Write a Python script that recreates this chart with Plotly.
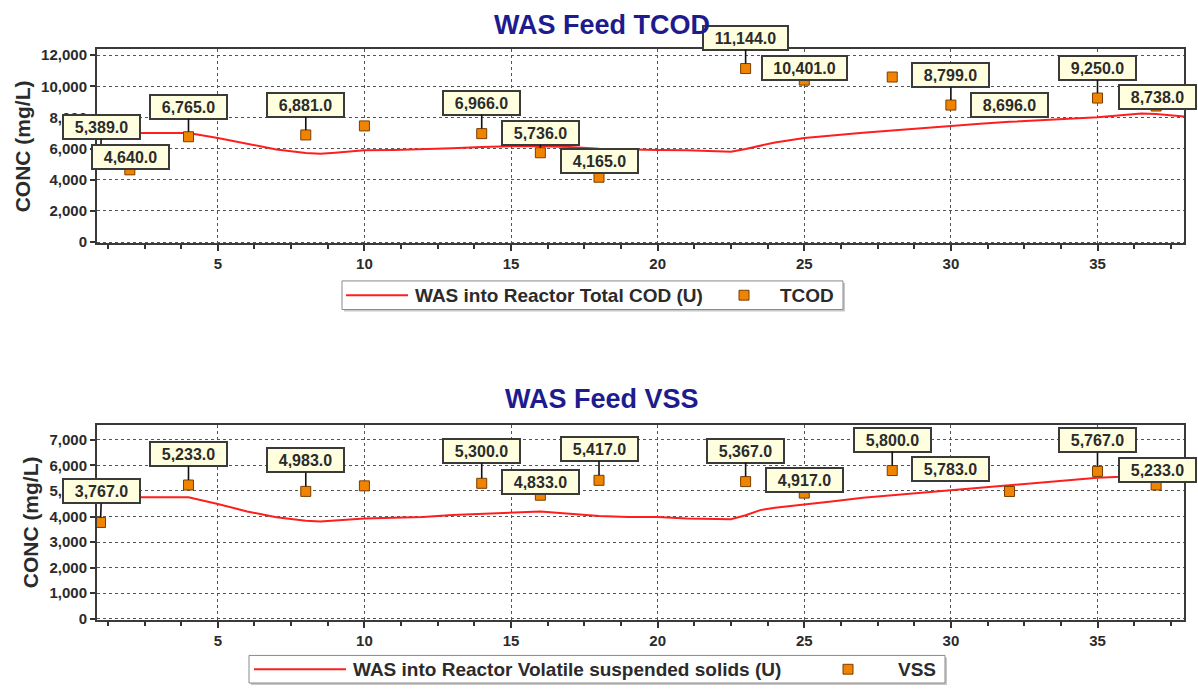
import plotly.graph_objects as go

# ---------------- data ----------------
MODEL_DAYS = [1, 2, 3, 4, 5, 6, 7, 8, 8.5, 9, 10, 11, 12, 13, 14, 15, 16, 17, 18, 19, 20,
              21, 22, 22.5, 23, 23.5, 24, 25, 26, 27, 28, 29, 30, 31, 32, 33, 34, 35, 36, 36.5, 37, 38]
TCOD_MODEL = [7000, 7000, 7000, 7000, 6680, 6300, 5950, 5720, 5670, 5730, 5890, 5910, 5950, 6030,
              6100, 6160, 6150, 6100, 6000, 5950, 5910, 5900, 5830, 5800, 5980, 6200, 6400, 6690, 6870,
              7020, 7160, 7320, 7480, 7600, 7720, 7830, 7930, 8020, 8180, 8250, 8230, 8050]
VSS_MODEL = [4750, 4750, 4750, 4750, 4490, 4200, 3970, 3830, 3800, 3850, 3920, 3950, 3980, 4060,
             4110, 4150, 4200, 4110, 4020, 3980, 3980, 3920, 3900, 3890, 4050, 4250, 4340, 4460, 4600,
             4730, 4830, 4920, 5010, 5110, 5210, 5310, 5420, 5520, 5570, 5600, 5590, 5560]

TCOD_DAYS = [1, 2, 4, 8, 10, 14, 16, 18, 23, 25, 28, 30, 32, 35, 37]
TCOD_VALUES = [5389, 4640, 6765, 6881, 7460, 6966, 5736, 4165, 11144, 10401, 10600, 8799, 8696, 9250, 8738]
TCOD_LABELED = [True, True, True, True, False, True, True, True, True, True, False, True, True, True, True]

VSS_DAYS = [1, 4, 8, 10, 14, 16, 18, 23, 25, 28, 30, 32, 35, 37]
VSS_VALUES = [3767, 5233, 4983, 5200, 5300, 4833, 5417, 5367, 4917, 5800, 5783, 4980, 5767, 5233]
VSS_LABELED = [True, True, True, False, True, True, True, True, True, True, True, False, True, True]

X_TICKS = [5, 10, 15, 20, 25, 30, 35]

TCOD_LINE_NAME = "WAS into Reactor Total COD (U)"
TCOD_POINT_NAME = "TCOD"
VSS_LINE_NAME = "WAS into Reactor Volatile suspended solids (U)"
VSS_POINT_NAME = "VSS"

# ---------------- layout helpers (pixel offsets of callout boxes) ----------------
TCOD_LABEL_DY = {1: -31, 2: -13, 4: -30, 8: -30, 14: -31, 16: -20, 18: -16, 23: -31,
                 25: -12, 30: -30, 32: -2, 35: -30, 37: -9}
TCOD_LABEL_DX = {1: 1, 2: 1, 37: 1}
VSS_LABEL_DY = {1: -31, 4: -31, 8: -31, 14: -32, 16: -13, 18: -31, 23: -31, 25: -13,
                28: -31, 30: -1.5, 35: -31, 37: -15}
VSS_LABEL_DX = {1: 1, 37: 1}

W, H = 1198, 692
FONT = "Liberation Sans, Arial, sans-serif"
RED = "#FF1E1E"
ORANGE = "#F08400"
ORANGE_EDGE = "#7A3E00"
NAVY = "#1C1C8E"
TXT = "#2b2b2b"


def px(x):
    return x / W


def py(y):
    return 1 - y / H


fig = go.Figure()

marker_style = dict(symbol="square", size=10, color=ORANGE, line=dict(color=ORANGE_EDGE, width=1))
fig.add_trace(go.Scatter(x=MODEL_DAYS, y=TCOD_MODEL, mode="lines", name=TCOD_LINE_NAME,
                         line=dict(color=RED, width=2), xaxis="x", yaxis="y", hoverinfo="skip"))
fig.add_trace(go.Scatter(x=TCOD_DAYS, y=TCOD_VALUES, mode="markers", name=TCOD_POINT_NAME,
                         marker=marker_style, xaxis="x", yaxis="y", cliponaxis=False))
fig.add_trace(go.Scatter(x=MODEL_DAYS, y=VSS_MODEL, mode="lines", name=VSS_LINE_NAME,
                         line=dict(color=RED, width=2), xaxis="x2", yaxis="y2", hoverinfo="skip"))
fig.add_trace(go.Scatter(x=VSS_DAYS, y=VSS_VALUES, mode="markers", name=VSS_POINT_NAME,
                         marker=marker_style, xaxis="x2", yaxis="y2", cliponaxis=False))

annotations = []
shapes = []


def add_labels(days, values, labeled, dy, dx, xref, yref):
    for d, v, lab in zip(days, values, labeled):
        if not lab:
            continue
        text = f"{v:,.1f}"
        annotations.append(dict(
            x=d, y=v, xref=xref, yref=yref, text=text, showarrow=True,
            ax=dx.get(d, 0), ay=dy[d], arrowhead=0, arrowwidth=1.6, arrowcolor="#111111",
            standoff=5, bgcolor="#FFFFE0", bordercolor="#3a3a3a", borderwidth=2, borderpad=3,
            width=69 if len(text) <= 7 else 77, height=16,
            font=dict(family=FONT, size=16, color=TXT, weight="bold"),
        ))


add_labels(TCOD_DAYS, TCOD_VALUES, TCOD_LABELED, TCOD_LABEL_DY, TCOD_LABEL_DX, "x", "y")
add_labels(VSS_DAYS, VSS_VALUES, VSS_LABELED, VSS_LABEL_DY, VSS_LABEL_DX, "x2", "y2")

annotations.append(dict(text="WAS Feed TCOD", x=px(602), y=py(22), xref="paper", yref="paper",
                        showarrow=False, xanchor="center", yanchor="middle",
                        font=dict(family=FONT, size=27, color=NAVY, weight="bold")))
annotations.append(dict(text="WAS Feed VSS", x=px(602), y=py(402), xref="paper", yref="paper",
                        showarrow=False, xanchor="center", yanchor="middle",
                        font=dict(family=FONT, size=27, color=NAVY, weight="bold")))


def add_legend(box, line_span, line_name, marker_x, point_name, point_right):
    x0, y0, x1, y1 = box
    yc = (y0 + y1) / 2
    # soft shadow + box
    shapes.append(dict(type="rect", xref="paper", yref="paper", x0=px(x0 + 2), x1=px(x1 + 2),
                       y0=py(y1 + 2), y1=py(y0 + 2), fillcolor="#c8c8c8", line=dict(width=0), layer="above"))
    shapes.append(dict(type="rect", xref="paper", yref="paper", x0=px(x0), x1=px(x1),
                       y0=py(y1), y1=py(y0), fillcolor="white", line=dict(color="#8a8a8a", width=1),
                       layer="above"))
    shapes.append(dict(type="line", xref="paper", yref="paper", x0=px(line_span[0]), x1=px(line_span[1]),
                       y0=py(yc), y1=py(yc), line=dict(color=RED, width=2), layer="above"))
    shapes.append(dict(type="rect", xref="paper", yref="paper", x0=px(marker_x - 5), x1=px(marker_x + 5),
                       y0=py(yc + 5), y1=py(yc - 5), fillcolor=ORANGE,
                       line=dict(color=ORANGE_EDGE, width=1), layer="above"))
    annotations.append(dict(text=line_name, x=px(line_span[1] + 5), y=py(yc), xref="paper", yref="paper",
                            showarrow=False, xanchor="left", yanchor="middle",
                            font=dict(family=FONT, size=19, color=TXT, weight="bold")))
    annotations.append(dict(text=point_name, x=px(point_right), y=py(yc), xref="paper", yref="paper",
                            showarrow=False, xanchor="right", yanchor="middle",
                            font=dict(family=FONT, size=19, color=TXT, weight="bold")))


add_legend((342, 282, 843, 311), (346, 408), TCOD_LINE_NAME, 744, TCOD_POINT_NAME, 836)
add_legend((249, 662, 945, 690), (254, 346), VSS_LINE_NAME, 848, VSS_POINT_NAME, 938)

tickfont = dict(family=FONT, size=15, color=TXT, weight="bold")
xdom = [px(97), px(1184)]
xcommon = dict(range=[0.88, 37.95], tickvals=X_TICKS, showgrid=True, gridcolor="#555555", griddash="dot",
               gridwidth=1, showline=True, linecolor="#3a3a3a", linewidth=2, mirror=True,
               ticks="outside", ticklen=6, tickwidth=1.5, tickcolor="#333",
               minor=dict(dtick=1.25, tick0=0, ticks="outside", ticklen=4, tickcolor="#333", showgrid=False),
               tickfont=tickfont, zeroline=False, domain=xdom)
ycommon = dict(showgrid=True, gridcolor="#555555", griddash="dot", gridwidth=1, showline=True,
               linecolor="#3a3a3a", linewidth=2, mirror=True, ticks="outside", ticklen=5, tickwidth=1.5,
               tickcolor="#333", tickformat=",d", tickfont=tickfont, zeroline=False,
               title=dict(text="CONC (mg/L)", standoff=5, font=dict(family=FONT, size=21, color=TXT, weight="bold")))

fig.update_layout(
    width=W, height=H, margin=dict(l=0, r=0, t=0, b=0),
    paper_bgcolor="white", plot_bgcolor="white",
    xaxis=dict(**xcommon, anchor="y"),
    yaxis=dict(**ycommon, anchor="x", domain=[py(244), py(47)], range=[-90, 12380], dtick=2000),
    xaxis2=dict(**xcommon, anchor="y2"),
    yaxis2=dict(**ycommon, anchor="x2", domain=[py(626), py(428)], range=[-50, 7590], dtick=1000),
    annotations=annotations,
    shapes=shapes,
    showlegend=False,
)

fig.write_html("out.html")
